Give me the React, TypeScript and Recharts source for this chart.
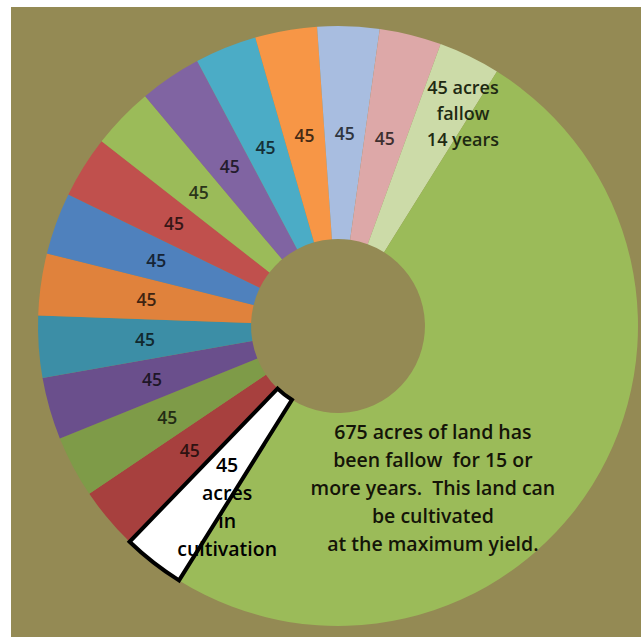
import React from "react";
import { PieChart, Pie, Cell } from "recharts";

// one slice per field in the rotation, going clockwise from the first fallow year
const fields = [
  "Fallow 1 year",
  "Fallow 2 years",
  "Fallow 3 years",
  "Fallow 4 years",
  "Fallow 5 years",
  "Fallow 6 years",
  "Fallow 7 years",
  "Fallow 8 years",
  "Fallow 9 years",
  "Fallow 10 years",
  "Fallow 11 years",
  "Fallow 12 years",
  "Fallow 13 years",
  "Fallow 14 years",
  "Fallow 15+ years",
  "In cultivation",
];

const acres = [45, 45, 45, 45, 45, 45, 45, 45, 45, 45, 45, 45, 45, 45, 675, 45];

const sliceLabels = [
  "45",
  "45",
  "45",
  "45",
  "45",
  "45",
  "45",
  "45",
  "45",
  "45",
  "45",
  "45",
  "45",
  "45 acres\nfallow\n14 years",
  "675 acres of land has\nbeen fallow  for 15 or\nmore years.  This land can\nbe cultivated\nat the maximum yield.",
  "45\nacres\nin\ncultivation",
];

const colors = [
  "#A7403E",
  "#7E9B48",
  "#6A4F8C",
  "#3C8EA6",
  "#E0823C",
  "#4F81BD",
  "#C0504D",
  "#9BBB59",
  "#8064A2",
  "#4BACC6",
  "#F79646",
  "#A8BDE0",
  "#DDA8A8",
  "#CCDBA8",
  "#9BBB59",
  "#FFFFFF",
];

const data = fields.map((name, i) => ({ name, acres: acres[i], label: sliceLabels[i] }));

const BG = "#948A54";
const FONT = "'Open Sans', 'DejaVu Sans', sans-serif";
const RAD = Math.PI / 180;

function darken(hex: string, k: number) {
  const n = parseInt(hex.slice(1), 16);
  const r = Math.round(((n >> 16) & 255) * k);
  const g = Math.round(((n >> 8) & 255) * k);
  const b = Math.round((n & 255) * k);
  return `rgb(${r},${g},${b})`;
}

// the three long labels sit away from the slice middle
const placement: Record<number, { r: number; shift: number; lh: number; size: number; color: string }> = {
  13: { r: 247, shift: -4.4, lh: 26, size: 18, color: "#1E2912" },
  14: { r: 187, shift: -27.5, lh: 28, size: 19.5, color: "#141408" },
  15: { r: 211, shift: 6.3, lh: 28, size: 19.5, color: "#000000" },
};

function renderLabel(props: any) {
  const { cx, cy, midAngle, innerRadius, outerRadius, index, payload } = props;
  const p = placement[index];
  const r = p ? p.r : (innerRadius + outerRadius) / 2;
  const a = (midAngle + (p ? p.shift : 0)) * RAD;
  const x = cx + r * Math.cos(a);
  const y = cy - r * Math.sin(a);
  const lines = String(payload.label ?? props.label ?? "").split("\n");
  const lh = p ? p.lh : 20;
  const fill = p ? p.color : darken(colors[index], 0.28);
  return (
    <text
      key={`lbl-${index}`}
      x={x}
      y={y}
      textAnchor="middle"
      dominantBaseline="central"
      fill={fill}
      fontFamily={FONT}
      fontWeight={600}
      fontSize={p ? p.size : 17.5}
      style={{ whiteSpace: "pre" }}
    >
      {lines.map((t, i) => (
        <tspan key={i} x={x} dy={i === 0 ? (-(lines.length - 1) / 2) * lh : lh}>
          {t}
        </tspan>
      ))}
    </text>
  );
}

export default function App() {
  return (
    <div
      style={{
        position: "fixed",
        top: 7,
        left: 11,
        width: 630,
        height: 630,
        background: BG,
      }}
    >
      <PieChart width={630} height={630} margin={{ top: 0, right: 0, bottom: 0, left: 0 }}>
        <Pie
          data={data}
          dataKey="acres"
          nameKey="name"
          cx={327}
          cy={319}
          innerRadius={87}
          outerRadius={300}
          startAngle={-134}
          endAngle={-494}
          stroke="none"
          label={renderLabel}
          labelLine={false}
          isAnimationActive={false}
        >
          {data.map((d, i) => (
            <Cell
              key={d.name}
              fill={colors[i]}
              stroke={i === data.length - 1 ? "#000000" : "none"}
              strokeWidth={i === data.length - 1 ? 4 : 0}
            />
          ))}
        </Pie>
      </PieChart>
    </div>
  );
}
